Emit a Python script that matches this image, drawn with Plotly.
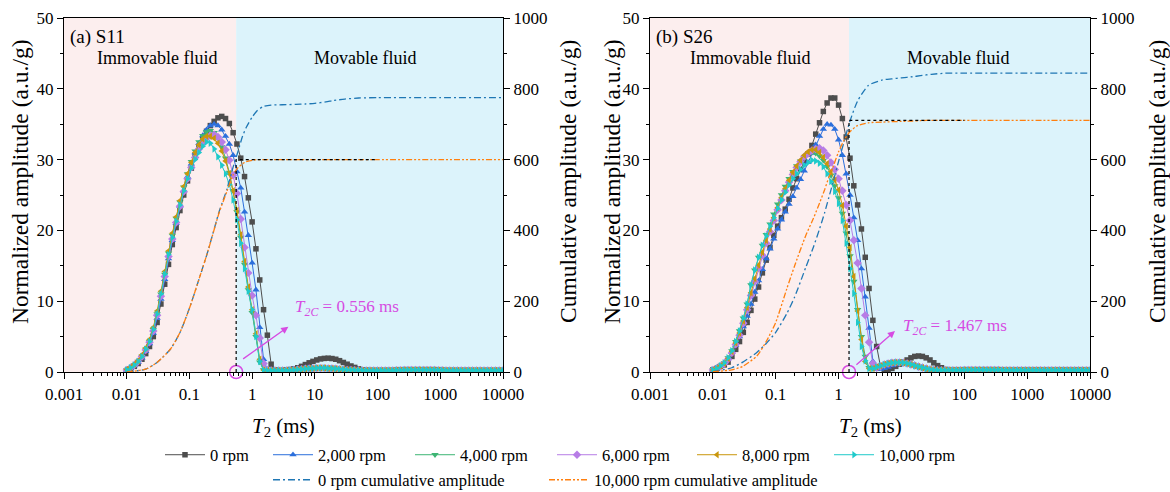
import numpy as np
import plotly.graph_objects as go

# T2 relaxation-time bins (ms): 100 log-spaced bins from 0.01 to 10000 ms
t2 = np.logspace(-2, 4, 100)

speeds = ["0 rpm", "2,000 rpm", "4,000 rpm", "6,000 rpm", "8,000 rpm", "10,000 rpm"]

# ---------------- Sample S11 : normalized amplitude (a.u./g) ----------------
s11_main_0 = [0.2, 0.4, 0.8, 1.2, 1.8, 2.6, 3.6, 5.0, 7.0, 9.6,
              12.4, 15.2, 18.0, 20.4, 22.8, 25.0, 27.0, 28.8, 30.4, 31.8,
              33.0, 34.0, 34.8, 35.4, 35.9, 36.1, 35.8, 35.1, 33.8, 32.2,
              30.2, 27.6, 24.6, 21.2, 17.4, 13.0, 8.8, 5.2, 1.1, 0.3]
s11_main_2000 = [0.25, 0.5, 0.9, 1.35, 2.0, 2.9, 4.0, 5.5, 7.6, 10.3,
                 13.1, 16.0, 18.6, 21.0, 23.4, 25.6, 27.6, 29.4, 31.0, 32.3,
                 33.4, 34.2, 34.8, 35.0, 34.8, 34.2, 33.3, 32.2, 30.6, 28.3,
                 26.0, 22.6, 19.3, 15.4, 11.6, 6.3, 1.8, 0.3, 0.2, 0.2]
s11_main_4000 = [0.3, 0.6, 1.0, 1.5, 2.2, 3.2, 4.3, 6.0, 8.2, 11.0,
                 13.8, 16.8, 19.3, 21.7, 24.0, 26.1, 28.0, 29.7, 31.2, 32.5,
                 33.4, 33.9, 34.1, 33.8, 33.0, 31.8, 30.2, 28.2, 25.6, 22.6,
                 19.0, 15.2, 11.6, 8.4, 5.0, 1.4, 0.3, 0.2, 0.2, 0.2]
s11_main_6000 = [0.3, 0.6, 1.0, 1.5, 2.2, 3.1, 4.2, 5.8, 8.0, 10.7,
                 13.5, 16.3, 18.8, 21.1, 23.4, 25.5, 27.3, 28.9, 30.3, 31.5,
                 32.4, 33.0, 33.4, 33.5, 33.2, 32.5, 31.4, 29.9, 27.8, 25.2,
                 21.6, 17.6, 14.0, 10.8, 8.0, 4.8, 1.2, 0.3, 0.2, 0.2]
s11_main_8000 = [0.35, 0.65, 1.1, 1.6, 2.4, 3.4, 4.6, 6.3, 8.6, 11.4,
                 14.2, 17.1, 19.6, 21.9, 24.2, 26.2, 28.0, 29.6, 31.0, 32.1,
                 32.9, 33.3, 33.3, 33.0, 32.3, 31.2, 29.8, 28.0, 25.6, 22.8,
                 19.4, 15.6, 12.0, 8.8, 5.4, 1.8, 0.3, 0.2, 0.2, 0.2]
s11_main_10000 = [0.3, 0.6, 1.0, 1.5, 2.2, 3.2, 4.3, 6.0, 8.2, 11.0,
                  13.8, 16.6, 19.0, 21.3, 23.6, 25.6, 27.3, 28.8, 30.0, 31.0,
                  31.9, 32.5, 32.3, 31.5, 30.4, 29.2, 28.0, 26.5, 24.3, 21.5,
                  18.2, 14.6, 11.4, 8.8, 5.0, 1.5, 0.3, 0.2, 0.2, 0.2]
s11_tail_0 = [0.2, 0.2, 0.3, 0.35, 0.45, 0.6, 0.8, 1.05, 1.3, 1.5,
              1.7, 1.85, 1.92, 1.95, 1.9, 1.8, 1.6, 1.35, 1.1, 0.85,
              0.65, 0.45, 0.3, 0.25, 0.2, 0.2, 0.2, 0.2, 0.2, 0.2,
              0.2, 0.25, 0.25, 0.3, 0.3, 0.3, 0.3, 0.3, 0.3, 0.3,
              0.3, 0.3, 0.25, 0.25, 0.2, 0.2, 0.2, 0.2, 0.2, 0.2,
              0.2, 0.2, 0.2, 0.2, 0.2, 0.2, 0.2, 0.2, 0.2, 0.2]
s11_tail = [0.2, 0.2, 0.2, 0.25, 0.3, 0.35, 0.4, 0.45, 0.5, 0.5,
            0.55, 0.55, 0.55, 0.5, 0.5, 0.45, 0.4, 0.35, 0.3, 0.3,
            0.25, 0.25, 0.2, 0.2, 0.2, 0.2, 0.2, 0.2, 0.2, 0.2,
            0.2, 0.25, 0.25, 0.3, 0.3, 0.3, 0.3, 0.3, 0.3, 0.3,
            0.3, 0.3, 0.25, 0.25, 0.2, 0.2, 0.2, 0.2, 0.2, 0.2,
            0.2, 0.2, 0.2, 0.2, 0.2, 0.2, 0.2, 0.2, 0.2, 0.2]

# ---------------- Sample S26 : normalized amplitude (a.u./g) ----------------
s26_main_0 = [0.3, 0.5, 0.8, 1.0, 1.4, 2.2, 3.2, 4.3, 5.6, 7.0,
              8.7, 10.3, 12.0, 14.0, 15.8, 17.6, 19.3, 20.6, 21.8, 23.0,
              24.4, 26.0, 27.3, 28.6, 29.8, 30.8, 32.0, 33.6, 35.2, 36.8,
              38.0, 38.7, 38.7, 37.7, 35.8, 33.2, 30.2, 26.3, 23.6, 20.2,
              16.2, 11.8, 7.3, 3.6, 0.8]
s26_main_2000 = [0.3, 0.6, 0.9, 1.3, 1.9, 2.8, 3.8, 5.0, 6.4, 7.9,
                 9.6, 11.3, 12.9, 14.5, 16.0, 17.4, 18.8, 20.2, 21.5, 22.6,
                 23.7, 24.8, 26.0, 27.2, 28.4, 29.6, 30.9, 32.1, 33.3, 34.3,
                 35.0, 34.9, 34.3, 32.8, 30.6, 28.0, 25.0, 21.8, 18.6, 14.6,
                 10.6, 6.2, 1.5, 0.4, 0.4]
s26_main_4000 = [0.3, 0.5, 0.9, 1.3, 2.0, 3.0, 4.3, 5.8, 7.6, 9.6,
                 12.3, 14.4, 16.2, 17.9, 19.4, 20.9, 22.3, 23.7, 25.0, 26.2,
                 27.3, 28.3, 29.1, 29.8, 30.4, 30.8, 31.0, 30.9, 30.5, 29.9,
                 29.0, 27.8, 26.3, 24.6, 22.4, 19.6, 16.4, 12.8, 8.8, 5.0,
                 2.2, 0.6, 0.5, 0.7, 0.9]
s26_main_6000 = [0.3, 0.5, 0.8, 1.2, 1.8, 2.7, 3.9, 5.2, 6.9, 8.8,
                 10.8, 12.8, 14.7, 16.5, 18.2, 19.8, 21.4, 22.9, 24.3, 25.6,
                 26.8, 27.9, 28.9, 29.7, 30.4, 30.9, 31.3, 31.5, 31.6, 31.3,
                 30.6, 29.6, 28.6, 27.3, 25.6, 23.6, 21.4, 18.6, 15.4, 11.8,
                 8.0, 4.2, 1.2, 0.6, 0.8]
s26_main_8000 = [0.3, 0.5, 0.85, 1.25, 1.9, 2.9, 4.1, 5.5, 7.2, 9.1,
                 11.2, 13.2, 15.1, 16.9, 18.6, 20.2, 21.8, 23.2, 24.6, 25.9,
                 27.1, 28.2, 29.1, 29.9, 30.6, 31.1, 31.4, 31.4, 31.0, 30.3,
                 29.4, 28.3, 27.1, 25.7, 23.5, 20.6, 17.6, 13.5, 8.6, 4.6,
                 1.5, 0.5, 0.5, 0.7, 0.9]
s26_main_10000 = [0.3, 0.5, 0.9, 1.3, 2.0, 3.0, 4.3, 5.8, 7.6, 9.6,
                  12.3, 14.4, 16.2, 17.9, 19.2, 20.6, 21.8, 23.1, 24.3, 25.4,
                  26.4, 27.3, 28.0, 28.6, 29.2, 29.6, 29.9, 29.8, 29.5, 29.0,
                  28.0, 26.9, 25.5, 23.8, 21.4, 18.2, 14.6, 11.1, 7.0, 3.6,
                  1.6, 0.5, 0.5, 0.7, 0.9]
s26_tail_0 = [0.3, 0.3, 0.5, 0.8, 1.1, 1.4, 1.7, 2.0, 2.2, 2.26,
              2.2, 2.0, 1.7, 1.3, 0.9, 0.6, 0.35, 0.25, 0.25, 0.25,
              0.25, 0.3, 0.3, 0.3, 0.3,
              0.3, 0.3, 0.3, 0.3, 0.3, 0.3, 0.25, 0.25, 0.25, 0.25,
              0.25, 0.25, 0.25, 0.25, 0.25, 0.25, 0.25, 0.25, 0.25, 0.25,
              0.25, 0.25, 0.25, 0.25, 0.25, 0.25, 0.25, 0.25, 0.25, 0.25]
s26_tail_2000 = [0.5, 0.7, 0.9, 1.05, 1.15, 1.2, 1.2, 1.15, 1.05, 0.9,
                 0.75, 0.6, 0.45, 0.35, 0.3,
                 0.25, 0.25, 0.25, 0.25, 0.25, 0.25, 0.3, 0.3, 0.3, 0.3,
                 0.3, 0.3, 0.3, 0.3, 0.3, 0.3, 0.25, 0.25, 0.25, 0.25,
                 0.25, 0.25, 0.25, 0.25, 0.25, 0.25, 0.25, 0.25, 0.25, 0.25,
                 0.25, 0.25, 0.25, 0.25, 0.25, 0.25, 0.25, 0.25, 0.25, 0.25]
s26_tail = [1.05, 1.2, 1.3, 1.35, 1.35, 1.3, 1.2, 1.05, 0.9, 0.75,
            0.6, 0.45, 0.35, 0.3, 0.25,
            0.25, 0.25, 0.25, 0.25, 0.25, 0.25, 0.3, 0.3, 0.3, 0.3,
            0.3, 0.3, 0.3, 0.3, 0.3, 0.3, 0.25, 0.25, 0.25, 0.25,
            0.25, 0.25, 0.25, 0.25, 0.25, 0.25, 0.25, 0.25, 0.25, 0.25,
            0.25, 0.25, 0.25, 0.25, 0.25, 0.25, 0.25, 0.25, 0.25, 0.25]

s11_amp = [s11_main_0 + s11_tail_0, s11_main_2000 + s11_tail,
           s11_main_4000 + s11_tail, s11_main_6000 + s11_tail,
           s11_main_8000 + s11_tail, s11_main_10000 + s11_tail]
s26_amp = [s26_main_0 + s26_tail_0, s26_main_2000 + s26_tail_2000,
           s26_main_4000 + s26_tail, s26_main_6000 + s26_tail,
           s26_main_8000 + s26_tail, s26_main_10000 + s26_tail]

# ---------------- Cumulative amplitude (a.u./g) ----------------
cum_t2 = [0.01, 0.02, 0.03, 0.05, 0.07, 0.1, 0.15, 0.2, 0.3, 0.4, 0.5, 0.6, 0.7,
          0.8, 1.0, 1.2, 1.5, 2, 3, 5, 7, 10, 15, 20, 30, 50, 100, 1000, 10000]
s11_cum_0 = [0, 8, 26, 65, 110, 180, 275, 345, 455, 518, 580, 625, 665,
             690, 720, 738, 750, 754, 755, 756, 757, 759, 763, 767, 771, 774, 775, 775, 775]
s11_cum_10000 = [0, 8, 26, 65, 110, 180, 275, 345, 452, 512, 558, 578, 588,
                 594, 598, 600, 600, 600, 600, 600, 600, 600, 600, 600, 600, 600, 600, 600, 600]
s26_cum_0 = [1, 12, 28, 55, 80, 112, 165, 212, 295, 354, 405, 450, 493,
             530, 595, 645, 706, 765, 810, 825, 828, 831, 834, 837, 841, 844, 844, 844, 844]
s26_cum_10000 = [1, 6, 16, 45, 85, 140, 235, 300, 385, 435, 478, 515, 550,
                 575, 622, 652, 678, 696, 704, 706, 707, 708, 709, 710, 711, 711, 711, 711, 711]

# T2 cutoff values (ms)
t2c_s11 = 0.556
t2c_s26 = 1.467

x_tickvals = [0.001, 0.01, 0.1, 1, 10, 100, 1000, 10000]
x_ticktext = ["0.001", "0.01", "0.1", "1", "10", "100", "1000", "10000"]

# ---------------- styling ----------------
FONT = "Liberation Serif, Times New Roman, serif"
W, H = 1170, 492
MT, MB = 18, 120
PH = H - MT - MB
colors = ["#4d4d4d", "#2b6fdc", "#3db574", "#b77de6", "#c9960c", "#1fcaca"]
symbols = ["square", "triangle-up", "triangle-down", "diamond", "triangle-left", "triangle-right"]
msizes = [5.5, 6.5, 6.5, 6.5, 6.5, 6.5]
legend_w = [53, 87, 87, 85, 82, 100]
cum_legend_w = [221, 250]
cum_colors = ["#1f77b4", "#ff7f0e"]
cum_dash = ["7px,3px,2px,3px", "6px,2px,2px,2px,2px,2px"]
magenta = "#d64be2"
pink_bg = "rgb(252,238,238)"
blue_bg = "rgb(220,243,251)"


def px_x(p):
    return p / W


def px_y(p):
    return (H - MB - p) / PH


fig = go.Figure()

panels = [
    dict(label="(a) S11", amp=s11_amp, cum=[s11_cum_0, s11_cum_10000], t2c=t2c_s11,
         xa="x", ya="y", ya2="y2", legend=True,
         arrow=((0.68, 1.7), (3.78, 6.4)), text_at=(4.4, 9.0)),
    dict(label="(b) S26", amp=s26_amp, cum=[s26_cum_0, s26_cum_10000], t2c=t2c_s26,
         xa="x2", ya="y3", ya2="y4", legend=False,
         arrow=((1.82, 0.85), (7.9, 5.8)), text_at=(9.7, 6.3)),
]

for p in panels:
    # amplitude spectra at each centrifugal speed
    for k, name in enumerate(speeds):
        fig.add_trace(go.Scatter(
            x=t2, y=p["amp"][k], name=name, mode="lines+markers",
            line=dict(color=colors[k], width=1),
            marker=dict(symbol=symbols[k], size=msizes[k], color=colors[k],
                        line=dict(width=0)),
            xaxis=p["xa"], yaxis=p["ya"], showlegend=p["legend"],
            legend="legend", legendwidth=legend_w[k]))
    # cumulative curves on the right axis
    for k, name in enumerate(["0 rpm cumulative amplitude", "10,000 rpm cumulative amplitude"]):
        fig.add_trace(go.Scatter(
            x=cum_t2, y=p["cum"][k], name=name, mode="lines",
            line=dict(color=cum_colors[k], width=1.3, dash=cum_dash[k],
                      shape="spline", smoothing=0.6),
            xaxis=p["xa"], yaxis=p["ya2"], showlegend=p["legend"],
            legend="legend2", legendwidth=cum_legend_w[k]))
    # cutoff guide lines (dotted)
    plateau = p["cum"][1][-1]
    fig.add_trace(go.Scatter(
        x=[p["t2c"], p["t2c"], 100], y=[0, plateau, plateau], mode="lines",
        line=dict(color="black", width=1.2, dash="dot"),
        xaxis=p["xa"], yaxis=p["ya2"], showlegend=False, hoverinfo="skip"))
    # cutoff marker on the axis
    fig.add_trace(go.Scatter(
        x=[p["t2c"]], y=[0], mode="markers",
        marker=dict(symbol="circle-open", size=13, color=magenta, line=dict(width=1.5)),
        xaxis=p["xa"], yaxis=p["ya"], showlegend=False, cliponaxis=False,
        hoverinfo="skip"))

# background regions for immovable / movable fluid
shapes = []
for p in panels:
    shapes.append(dict(type="rect", xref=p["xa"], yref=p["ya"] + " domain",
                       x0=0.001, x1=p["t2c"], y0=0, y1=1,
                       fillcolor=pink_bg, line=dict(width=0), layer="below"))
    shapes.append(dict(type="rect", xref=p["xa"], yref=p["ya"] + " domain",
                       x0=p["t2c"], x1=10000, y0=0, y1=1,
                       fillcolor=blue_bg, line=dict(width=0), layer="below"))

annotations = []
region_pos = {"x": (0.212, 0.686), "x2": (0.227, 0.70)}
for p in panels:
    xd = p["xa"] + " domain"
    yd = p["ya"] + " domain"
    annotations.append(dict(text=p["label"], xref=xd, yref=yd, x=0.009, y=px_y(37),
                            xanchor="left", yanchor="middle", showarrow=False,
                            font=dict(size=19, color="black")))
    annotations.append(dict(text="Immovable fluid", xref=xd, yref=yd,
                            x=region_pos[p["xa"]][0], y=px_y(58), showarrow=False,
                            xanchor="center", yanchor="middle",
                            font=dict(size=18, color="black")))
    annotations.append(dict(text="Movable fluid", xref=xd, yref=yd,
                            x=region_pos[p["xa"]][1], y=px_y(58), showarrow=False,
                            xanchor="center", yanchor="middle",
                            font=dict(size=18, color="black")))
    (sx, sy), (tx, ty) = p["arrow"]
    annotations.append(dict(text="", xref=p["xa"], yref=p["ya"],
                            x=np.log10(tx), y=ty, ax=np.log10(sx), ay=sy,
                            axref=p["xa"], ayref=p["ya"], showarrow=True,
                            arrowhead=2, arrowsize=1.1, arrowwidth=1.3,
                            arrowcolor=magenta, standoff=0, startstandoff=0))
    annotations.append(dict(
        text="<i>T</i><sub><i>2C</i></sub> = %.3f ms" % p["t2c"],
        xref=p["xa"], yref=p["ya"], x=np.log10(p["text_at"][0]), y=p["text_at"][1],
        xanchor="left", yanchor="middle", showarrow=False,
        font=dict(size=17, color=magenta)))

# axis titles
for cx, text in [(20, "Normalized amplitude (a.u./g)"), (568, "Cumulative amplitude (a.u./g)"),
                 (612, "Normalized amplitude (a.u./g)"), (1157, "Cumulative amplitude (a.u./g)")]:
    annotations.append(dict(text=text, xref="paper", yref="paper", x=px_x(cx), y=px_y(182),
                            textangle=-90, showarrow=False, xanchor="center",
                            yanchor="middle", font=dict(size=23.5, color="black")))
for cx in [283.5, 870]:
    annotations.append(dict(text="<i>T</i><sub>2</sub> (ms)", xref="paper", yref="paper",
                            x=px_x(cx), y=px_y(427), showarrow=False,
                            xanchor="center", yanchor="middle",
                            font=dict(size=21, color="black")))

minor_x = [m * 10.0 ** e for e in range(-3, 4) for m in range(2, 10)]

common_x = dict(type="log", range=[-3, 4], tickvals=x_tickvals, ticktext=x_ticktext,
                ticks="outside", ticklen=6, tickwidth=1, tickcolor="black",
                showline=True, linecolor="black", linewidth=1.2, mirror=True,
                showgrid=False, zeroline=False,
                tickfont=dict(size=17, color="black"),
                minor=dict(tickvals=minor_x, ticks="outside", ticklen=3,
                           tickcolor="black", showgrid=False))
common_yl = dict(range=[0, 50], tickvals=[0, 10, 20, 30, 40, 50], ticks="outside",
                 ticklen=6, tickcolor="black", showline=True, linecolor="black",
                 linewidth=1.2, showgrid=False, zeroline=False,
                 tickfont=dict(size=17, color="black"),
                 minor=dict(dtick=5, ticks="outside", ticklen=3, tickcolor="black",
                            showgrid=False))
common_yr = dict(range=[0, 1000], tickvals=[0, 200, 400, 600, 800, 1000],
                 ticks="outside", ticklen=6, tickcolor="black", showline=True,
                 linecolor="black", linewidth=1.2, showgrid=False, zeroline=False,
                 side="right", tickfont=dict(size=17, color="black"),
                 minor=dict(dtick=100, ticks="outside", ticklen=3, tickcolor="black",
                            showgrid=False))

fig.update_layout(
    template="none",
    width=W, height=H,
    margin=dict(l=0, r=0, t=MT, b=MB, pad=0, autoexpand=False),
    paper_bgcolor="white", plot_bgcolor="rgba(0,0,0,0)",
    font=dict(family=FONT, size=16, color="black"),
    xaxis=dict(domain=[px_x(64), px_x(503)], anchor="y", **common_x),
    yaxis=dict(domain=[0, 1], anchor="x", **common_yl),
    yaxis2=dict(overlaying="y", anchor="x", **common_yr),
    xaxis2=dict(domain=[px_x(650), px_x(1090)], anchor="y3", **common_x),
    yaxis3=dict(domain=[0, 1], anchor="x2", **common_yl),
    yaxis4=dict(overlaying="y3", anchor="x2", **common_yr),
    shapes=shapes,
    annotations=annotations,
    legend=dict(orientation="h", x=px_x(160), y=px_y(455), xanchor="left",
                yanchor="middle", bgcolor="rgba(0,0,0,0)", itemwidth=40,
                font=dict(size=16.5, color="black"), tracegroupgap=0),
    legend2=dict(orientation="h", x=px_x(268), y=px_y(480), xanchor="left",
                 yanchor="middle", bgcolor="rgba(0,0,0,0)", itemwidth=40,
                 font=dict(size=16.5, color="black")),
    hovermode=False,
)

fig.write_html("out.html")
